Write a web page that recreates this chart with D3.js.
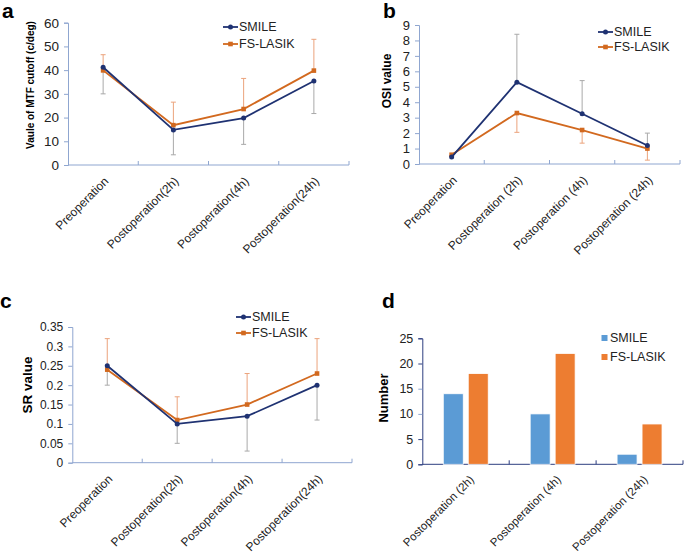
<!DOCTYPE html>
<html><head><meta charset="utf-8">
<script src="https://cdn.jsdelivr.net/npm/d3@7/dist/d3.min.js"></script>
<style>body{margin:0;background:#fff}svg{display:block;font-family:"Liberation Sans",Arial,sans-serif}</style>
</head><body><svg id="c" width="685" height="558"></svg>
<script>
// ---------- data ----------
const catsA = ["Preoperation","Postoperation(2h)","Postoperation(4h)","Postoperation(24h)"];
const catsB = ["Preoperation","Postoperation (2h)","Postoperation (4h)","Postoperation (24h)"];
const catsD = ["Postoperation (2h)","Postoperation (4h)","Postoperation (24h)"];
const series = ["SMILE","FS-LASIK"];

const mtfSmile = [41.2, 14.8, 19.8, 35.4];
const mtfLasik = [39.9, 16.8, 23.6, 39.8];
const mtfSmileErrEnd = [30.0, 4.3, 8.7, 21.7];
const mtfLasikErrEnd = [46.5, 26.5, 36.5, 53.0];
const mtfTicks = [0,10,20,30,40,50,60];

const osiSmile = [0.45, 5.3, 3.25, 1.2];
const osiLasik = [0.6, 3.3, 2.2, 1.0];
const osiSmileErrEnd = [0.55, 8.4, 5.4, 2.0];
const osiLasikErrEnd = [0.5, 2.05, 1.35, 0.25];
const osiTicks = [0,1,2,3,4,5,6,7,8,9];

const srSmile = [0.25, 0.10, 0.12, 0.20];
const srLasik = [0.24, 0.11, 0.15, 0.23];
const srSmileErrEnd = [0.20, 0.05, 0.03, 0.11];
const srLasikErrEnd = [0.32, 0.17, 0.23, 0.32];
const srTicks = [0,0.05,0.1,0.15,0.2,0.25,0.3,0.35];
const srTickLabels = ["0","0.05","0.1","0.15","0.2","0.25","0.3","0.35"];

const numSmile = [14, 10, 2];
const numLasik = [18, 22, 8];
const numTicks = [0,5,10,15,20,25];

// ---------- style ----------
const NAVY = "#1f3272", ORANGE = "#d2691f", AXIS = "#8fa6d0";
const ERR_GRAY = "#a9a9a9", ERR_OR = "#eba37c";
const BAR_BLUE = "#5b9bd5", BAR_OR = "#ed7d31", AXIS_D = "#2e3f80";

const svg = d3.select("#c");

function panelLabel(t, x, y){
  svg.append("text").attr("x",x).attr("y",y).attr("font-size",21).attr("font-weight","bold").text(t);
}

function linePanel(o){
  const g = svg.append("g");
  const x = d3.scaleBand().domain(o.cats).range([o.x0,o.x1]);
  const y = d3.scaleLinear().domain([0,o.ymax]).range([o.y0,o.yTop]);
  const ya = d3.axisLeft(y).tickValues(o.ticks).tickSize(4).tickPadding(5)
      .tickFormat((d,i)=> o.tickLabels ? o.tickLabels[i] : d);
  const yg = g.append("g").attr("transform",`translate(${o.x0},0)`).call(ya);
  yg.select(".domain").attr("stroke",AXIS);
  yg.selectAll(".tick line").attr("stroke",AXIS);
  yg.selectAll(".tick text").attr("font-size",o.tickFs).attr("fill","#222").attr("font-family","Liberation Sans, Arial, sans-serif");
  g.append("line").attr("x1",o.x0).attr("x2",o.x1).attr("y1",o.y0).attr("y2",o.y0).attr("stroke",AXIS);
  o.cats.forEach((c,i)=>{ if(i>0) g.append("line").attr("x1",x(c)).attr("x2",x(c)).attr("y1",o.y0).attr("y2",o.y0-4).attr("stroke",AXIS);});
  g.append("line").attr("x1",o.x1).attr("x2",o.x1).attr("y1",o.y0).attr("y2",o.y0-4).attr("stroke",AXIS);
  o.cats.forEach(c=>{
    const cx = x(c)+x.bandwidth()/2;
    g.append("text").attr("transform",`translate(${cx+6},${o.y0+17}) rotate(-45)`)
     .attr("text-anchor","end").attr("font-size",12).attr("fill","#222").text(c);
  });
  g.append("text").attr("transform",`translate(${o.titleX},${o.titleY}) rotate(-90)`)
   .attr("text-anchor","middle").attr("font-weight","bold").attr("font-size",o.titleFs).text(o.title);
  const sets = [
    {v:o.smile, e:o.smileErr, c:NAVY, ec:ERR_GRAY, sq:false},
    {v:o.lasik, e:o.lasikErr, c:ORANGE, ec:ERR_OR, sq:true}
  ];
  sets.forEach(s=>{
    o.cats.forEach((c,i)=>{
      const cx = x(c)+x.bandwidth()/2;
      g.append("line").attr("x1",cx).attr("x2",cx).attr("y1",y(s.v[i])).attr("y2",y(s.e[i])).attr("stroke",s.ec).attr("stroke-width",1);
      g.append("line").attr("x1",cx-2.5).attr("x2",cx+2.5).attr("y1",y(s.e[i])).attr("y2",y(s.e[i])).attr("stroke",s.ec).attr("stroke-width",1);
    });
  });
  const line = d3.line().x((d,i)=>x(o.cats[i])+x.bandwidth()/2).y(d=>y(d));
  [sets[1],sets[0]].forEach(s=>{
    g.append("path").attr("d",line(s.v)).attr("fill","none").attr("stroke",s.c).attr("stroke-width",1.8);
    s.v.forEach((d,i)=>{
      const cx = x(o.cats[i])+x.bandwidth()/2, cy=y(d);
      if(s.sq) g.append("rect").attr("x",cx-2.3).attr("y",cy-2.3).attr("width",4.6).attr("height",4.6).attr("fill",s.c);
      else g.append("circle").attr("cx",cx).attr("cy",cy).attr("r",2.5).attr("fill",s.c);
    });
  });
  [[series[0],NAVY,false],[series[1],ORANGE,true]].forEach((l,i)=>{
    const ly = o.legY + i*o.legDy;
    g.append("line").attr("x1",o.legX).attr("x2",o.legX+15).attr("y1",ly).attr("y2",ly).attr("stroke",l[1]).attr("stroke-width",1.8);
    if(l[2]) g.append("rect").attr("x",o.legX+5.2).attr("y",ly-2.3).attr("width",4.6).attr("height",4.6).attr("fill",l[1]);
    else g.append("circle").attr("cx",o.legX+7.5).attr("cy",ly).attr("r",2.5).attr("fill",l[1]);
    g.append("text").attr("x",o.legX+16).attr("y",ly).attr("dy","0.35em").attr("font-size",12.5).attr("fill","#222").text(l[0]);
  });
}

linePanel({cats:catsA, x0:68, x1:349, y0:165, yTop:22.7, ymax:60, ticks:mtfTicks, tickFs:13.5,
  smile:mtfSmile, lasik:mtfLasik, smileErr:mtfSmileErrEnd, lasikErr:mtfLasikErrEnd,
  title:"Vaule of MTF cutoff (c/deg)", titleX:34, titleY:85, titleFs:10,
  legX:223, legY:27, legDy:17});
linePanel({cats:catsB, x0:419, x1:680, y0:164, yTop:25, ymax:9, ticks:osiTicks, tickFs:13,
  smile:osiSmile, lasik:osiLasik, smileErr:osiSmileErrEnd, lasikErr:osiLasikErrEnd,
  title:"OSI value", titleX:391, titleY:81, titleFs:12,
  legX:598, legY:32, legDy:15});
linePanel({cats:catsA, x0:72.3, x1:352, y0:462.7, yTop:327, ymax:0.35, ticks:srTicks, tickLabels:srTickLabels, tickFs:12,
  smile:srSmile, lasik:srLasik, smileErr:srSmileErrEnd, lasikErr:srLasikErrEnd,
  title:"SR value", titleX:31.5, titleY:385, titleFs:13.5,
  legX:236, legY:317, legDy:16});

(function(){
  const o = {x0:422.3, x1:683, y0:464.3, yTop:338.3};
  const g = svg.append("g");
  const x = d3.scaleBand().domain(catsD).range([o.x0,o.x1]);
  const xs = d3.scaleBand().domain(series).range([0,x.bandwidth()]).paddingInner(0.2).paddingOuter(0.84);
  const y = d3.scaleLinear().domain([0,25]).range([o.y0,o.yTop]);
  const yg = g.append("g").attr("transform",`translate(${o.x0},0)`).call(d3.axisLeft(y).tickValues(numTicks).tickSize(4).tickPadding(5));
  yg.select(".domain").attr("stroke",AXIS_D);
  yg.selectAll(".tick line").attr("stroke",(d)=> (d===10||d===15)? AXIS : AXIS_D);
  yg.selectAll(".tick text").attr("font-size",12.5).attr("fill","#222").attr("font-family","Liberation Sans, Arial, sans-serif");
  g.append("line").attr("x1",o.x0).attr("x2",o.x1).attr("y1",o.y0).attr("y2",o.y0).attr("stroke",AXIS_D);
  catsD.forEach((c,i)=>{ if(i>0) g.append("line").attr("x1",x(c)).attr("x2",x(c)).attr("y1",o.y0).attr("y2",o.y0-4).attr("stroke",AXIS_D);});
  g.append("line").attr("x1",o.x1).attr("x2",o.x1).attr("y1",o.y0).attr("y2",o.y0-4).attr("stroke",AXIS_D);
  [[numSmile,BAR_BLUE,series[0]],[numLasik,BAR_OR,series[1]]].forEach(s=>{
    catsD.forEach((c,i)=>{
      g.append("rect").attr("x",x(c)+xs(s[2])).attr("width",xs.bandwidth())
       .attr("y",y(s[0][i])).attr("height",o.y0-y(s[0][i])).attr("fill",s[1]).attr("stroke","#fff").attr("stroke-width",0.8);
    });
  });
  catsD.forEach(c=>{
    const cx = x(c)+x.bandwidth()/2;
    g.append("text").attr("transform",`translate(${cx+9},${o.y0+16}) rotate(-45)`)
     .attr("text-anchor","end").attr("font-size",11.5).attr("fill","#222").text(c);
  });
  g.append("text").attr("transform",`translate(387.5,398) rotate(-90)`)
   .attr("text-anchor","middle").attr("font-weight","bold").attr("font-size",13).text("Number");
  [[series[0],BAR_BLUE],[series[1],BAR_OR]].forEach((l,i)=>{
    const ly = 338 + i*19;
    g.append("rect").attr("x",601.5).attr("y",ly-3).attr("width",6).attr("height",6).attr("fill",l[1]);
    g.append("text").attr("x",610).attr("y",ly).attr("dy","0.35em").attr("font-size",12.5).attr("fill","#222").text(l[0]);
  });
})();

panelLabel("a",2,18);
panelLabel("b",383,18);
panelLabel("c",0,308);
panelLabel("d",382,308);
</script></body></html>
